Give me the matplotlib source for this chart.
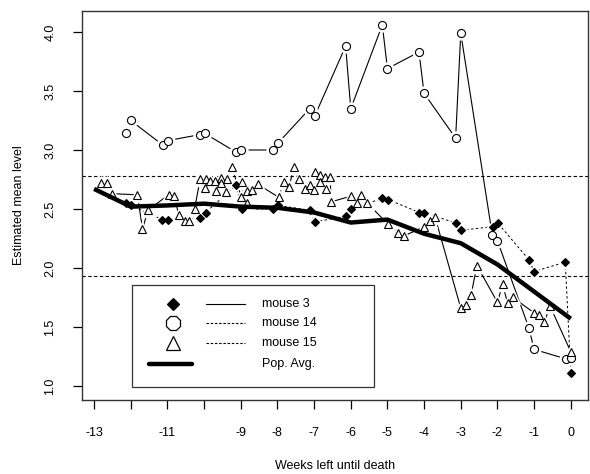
import matplotlib
matplotlib.use('Agg')
import matplotlib.pyplot as plt
from matplotlib.patches import Rectangle

plt.rcParams['font.family'] = ['Liberation Sans', 'DejaVu Sans']

weeks = list(range(-13, 1))
week_labels = ['-13', '', '-11', '', '-9', '-8', '-7', '-6', '-5', '-4', '-3', '-2', '-1', '0']
level_ticks = [1.0, 1.5, 2.0, 2.5, 3.0, 3.5, 4.0]

# mouse 3 (filled diamonds)
m3_x = [-12.14, -12.0, -11.14, -10.98, -10.12, -9.96, -9.13, -8.97, -8.12, -7.98, -7.12, -6.98, -6.12,
        -5.98, -5.14, -4.98, -4.13, -3.99, -3.13, -2.99, -2.13, -1.99, -1.14, -1.0, -0.15, 0.0]
m3_y = [2.55, 2.53, 2.41, 2.41, 2.42, 2.47, 2.70, 2.50, 2.50, 2.53, 2.49, 2.39, 2.44,
        2.50, 2.59, 2.58, 2.47, 2.47, 2.38, 2.32, 2.35, 2.38, 2.07, 1.97, 2.05, 1.11]

# mouse 14 (open circles)
m14_x = [-12.14, -12.0, -11.12, -10.98, -10.12, -9.98, -9.12, -8.98, -8.12, -7.98, -7.12, -6.98, -6.14,
         -6.0, -5.14, -5.0, -4.14, -4.0, -3.14, -3.0, -2.14, -2.0, -1.14, -1.0, -0.14, 0.0]
m14_y = [3.14, 3.25, 3.04, 3.08, 3.13, 3.14, 2.98, 3.00, 3.00, 3.06, 3.35, 3.29, 3.88,
         3.35, 4.06, 3.69, 3.83, 3.48, 3.10, 3.99, 2.28, 2.23, 1.49, 1.31, 1.23, 1.24]

# mouse 15 (open triangles)
m15_x = [-12.82, -12.66, -12.51, -11.82, -11.68, -11.53, -10.97, -10.82, -10.69, -10.53, -10.40, -10.26,
         -10.11, -9.97, -9.95, -9.83, -9.69, -9.67, -9.55, -9.53, -9.40, -9.38, -9.25,
         -8.98, -8.96, -8.84, -8.82, -8.68, -8.54, -7.97, -7.83, -7.68, -7.55, -7.41, -7.25, -7.11,
         -6.99, -6.97, -6.85, -6.83, -6.69, -6.67, -6.56, -6.54,
         -5.98, -5.84, -5.71, -5.55, -4.98, -4.71, -4.56, -3.99, -3.85, -3.70,
         -3.00, -2.85, -2.72, -2.56, -2.00, -1.86, -1.72, -1.58, -1.00, -0.86, -0.72, -0.57, 0.0]
m15_y = [2.72, 2.72, 2.63, 2.62, 2.33, 2.49, 2.62, 2.61, 2.45, 2.40, 2.40, 2.50,
         2.75, 2.68, 2.75, 2.74, 2.74, 2.65, 2.76, 2.72, 2.64, 2.75, 2.86,
         2.60, 2.73, 2.65, 2.55, 2.66, 2.71, 2.60, 2.73, 2.69, 2.86, 2.75, 2.67, 2.70,
         2.66, 2.81, 2.79, 2.73, 2.77, 2.67, 2.77, 2.56,
         2.61, 2.55, 2.62, 2.55, 2.37, 2.30, 2.27, 2.35, 2.40, 2.43,
         1.66, 1.69, 1.77, 2.02, 1.71, 1.86, 1.70, 1.75, 1.62, 1.60, 1.54, 1.68, 1.29]

# population average
pop_y = [2.67, 2.52, 2.53, 2.545, 2.52, 2.51, 2.47, 2.385, 2.41, 2.29, 2.21, 2.03, 1.80, 1.57]

ref_levels = [2.78, 1.93]
legend_labels = ['mouse 3', 'mouse 14', 'mouse 15', 'Pop. Avg.']

fig = plt.figure(figsize=(5.9, 4.74), dpi=100)
ax = fig.add_axes([82 / 590, 74 / 474, 506 / 590, 389 / 474])

for lev in ref_levels:
    ax.axhline(lev, color='black', lw=0.8, dashes=(3, 2.2), zorder=1)

series = [
    (m3_x, m3_y, 'D', 3.6, 'black', (2.5, 2.5)),
    (m14_x, m14_y, 'o', 5.8, 'white', None),
    (m15_x, m15_y, '^', 6.4, 'white', None),
]
for x, y, mk, ms, fc, dash in series:
    if dash:
        ax.plot(x, y, color='black', lw=0.7, dashes=dash, zorder=2)
    else:
        ax.plot(x, y, color='black', lw=0.8, zorder=2)
    # white halo so the joining lines stop short of the points
    ax.plot(x, y, ls='none', marker=mk, ms=ms * 1.6, mfc='white', mec='white', zorder=3)
for x, y, mk, ms, fc, dash in series:
    ax.plot(x, y, ls='none', marker=mk, ms=ms, mfc=fc, mec='black', mew=0.8, zorder=4)

ax.plot(weeks, pop_y, color='black', lw=3.2, solid_capstyle='butt', zorder=5)

ax.set_xlim(-13.33, 0.47)
ax.set_ylim(0.881, 4.178)
ax.set_xticks(weeks)
ax.set_xticklabels(week_labels)
ax.set_yticks(level_ticks)
ax.set_yticklabels(['%.1f' % v for v in level_ticks], rotation=90, va='center')
ax.tick_params(direction='out', length=6.5, width=0.9, labelsize=9, colors='black')
ax.tick_params(axis='x', pad=13)
ax.tick_params(axis='y', pad=12)
for s in ax.spines.values():
    s.set_linewidth(1.0)
    s.set_color('#333333')
ax.set_xlabel('Weeks left until death', fontsize=9, labelpad=15)
ax.set_ylabel('Estimated mean level', fontsize=9, labelpad=14)

# legend box drawn by hand: marker column, line column, text column
tr = ax.transAxes
ax.add_patch(Rectangle((0.099, 0.033), 0.478, 0.263, transform=tr, fill=False,
                       edgecolor='#333333', lw=0.9, zorder=6))
rows = [0.246, 0.197, 0.147, 0.092]
leg_marks = [('D', 6.5, 'black'), ('8', 10.5, 'white'), ('^', 10.5, 'white')]
for ry, (mk, ms, fc) in zip(rows[:3], leg_marks):
    ax.plot([0.180], [ry], transform=tr, marker=mk, ms=ms, mfc=fc, mec='black', mew=0.9, zorder=7)
ax.plot([0.245, 0.322], [rows[0], rows[0]], transform=tr, color='black', lw=0.8, zorder=7)
for ry in rows[1:3]:
    ax.plot([0.245, 0.322], [ry, ry], transform=tr, color='black', lw=0.8, dashes=(2.2, 1.6), zorder=7)
ax.plot([0.132, 0.217], [rows[3], rows[3]], transform=tr, color='black', lw=3.2,
        solid_capstyle='round', zorder=7)
for ry, lab in zip(rows, legend_labels):
    ax.text(0.356, ry, lab, transform=tr, fontsize=9, va='center', ha='left', zorder=7)

fig.savefig('out.png', dpi=100)
